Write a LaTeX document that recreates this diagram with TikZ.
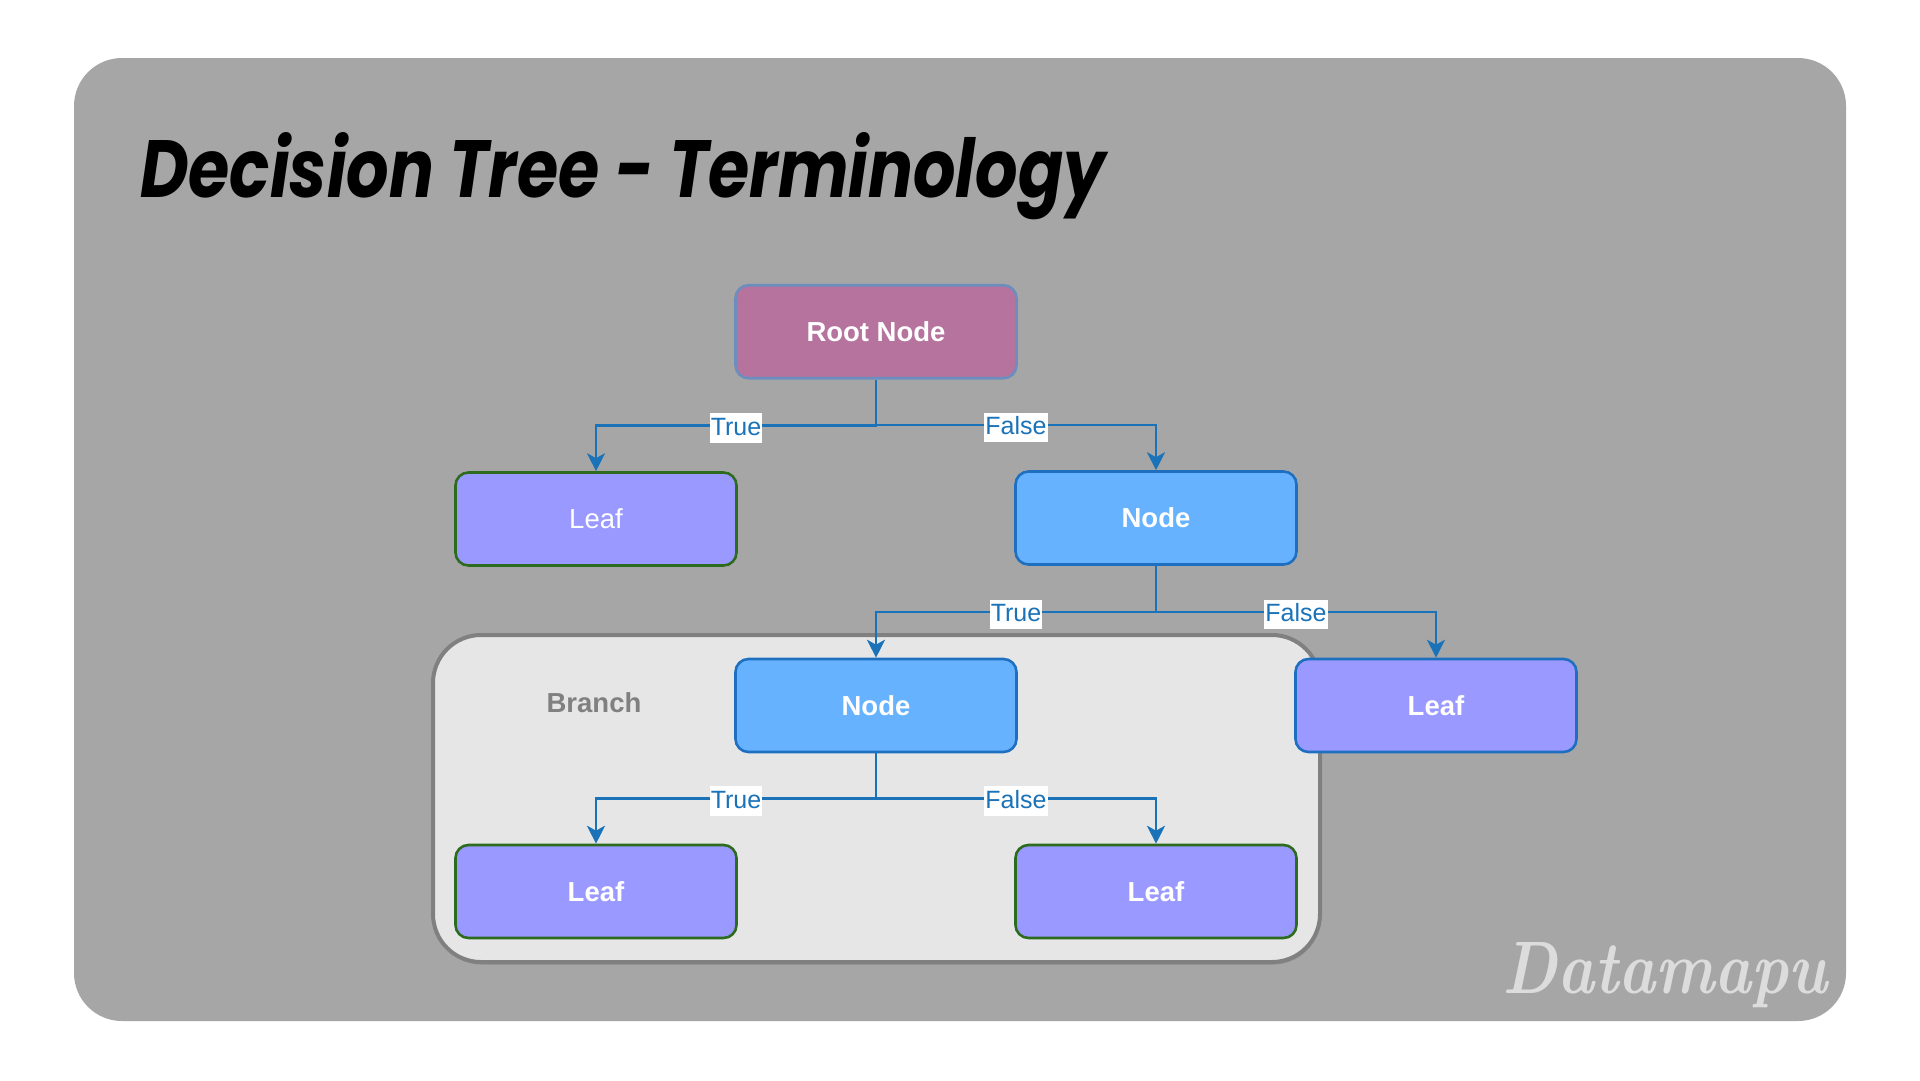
\documentclass[tikz,border=0pt]{standalone}
\usepackage{fontspec}
\setmainfont{Liberation Sans}
\newfontfamily\titlefont{Poppins}
\newfontfamily\markfont{Latin Modern Roman}
\usetikzlibrary{arrows.meta,calc,shadows}
\definecolor{bggray}{HTML}{A6A6A6}
\definecolor{rootfill}{HTML}{B5739D}
\definecolor{rootline}{HTML}{6C8EBF}
\definecolor{nodefill}{HTML}{66B2FF}
\definecolor{nodeline}{HTML}{1E6FC0}
\definecolor{leaffill}{HTML}{9999FF}
\definecolor{leafline}{HTML}{2D6B1F}
\definecolor{connc}{HTML}{1A73B8}
\definecolor{contfill}{HTML}{E6E6E6}
\definecolor{contline}{HTML}{808080}
\definecolor{markc}{HTML}{DCDCDC}
\definecolor{branchc}{HTML}{808080}
\tikzset{
  box/.style={rounded corners=13pt, line width=2.6pt, minimum width=281pt,
    minimum height=93pt, text=white, inner sep=0pt,
    font=\fontsize{27.5}{30}\selectfont\bfseries},
  rootbox/.style={box, fill=rootfill, draw=rootline},
  nodebox/.style={box, fill=nodefill, draw=nodeline},
  leafbox/.style={box, fill=leaffill, draw=leafline},
  leafblue/.style={box, fill=leaffill, draw=nodeline},
  conn/.style={draw=connc, line width=2.3pt,
    -{Stealth[length=18pt,width=18pt,inset=5pt]}},
  lbl/.style={fill=white, text=connc, font=\fontsize{25}{28}\selectfont,
    inner xsep=1.2pt, inner ysep=2pt, text height=20pt, text depth=5.5pt,
    yshift=-2.5pt},
  container/.style={draw=contline, fill=contfill, line width=4pt,
    rounded corners=48pt, minimum width=887pt, minimum height=327pt,
    inner sep=0pt, drop shadow={shadow xshift=1pt, shadow yshift=-2.5pt,
    opacity=0.35, fill=black!60}},
}
\begin{document}
\begin{tikzpicture}[x=1pt,y=-1pt]
\useasboundingbox (0,0) rectangle (1920,1080);
\fill[white] (0,0) rectangle (1920,1080);
\fill[bggray, rounded corners=48pt] (74,58) rectangle (1846,1021);

\node[anchor=base west, inner sep=0pt] (title) at (140,197)
  {\resizebox{965pt}{65pt}{\titlefont\bfseries\itshape Decision Tree - Terminology}};

\node[container] (branchbox) at (876.5,798.5) {};
\node[text=branchc, font=\fontsize{27.5}{30}\selectfont\bfseries] (branchlbl) at (594,703) {Branch};

\node[rootbox] (root) at (876,331.7) {Root Node};
\node[leafbox, font=\fontsize{27.5}{30}\selectfont] (leaf1) at (596,519) {Leaf};
\node[nodebox] (node1) at (1156,518) {Node};
\node[nodebox] (node2) at (876,705.5) {Node};
\node[leafblue] (leaf2) at (1436,705.5) {Leaf};
\node[leafbox] (leaf3) at (596,891.5) {Leaf};
\node[leafbox] (leaf4) at (1156,891.5) {Leaf};

\draw[conn] (root.south) |- ($(root.south)!.5!(leaf1.north)$) node[lbl] {True} -| (leaf1.north);
\draw[conn] (root.south) |- ($(root.south)!.5!(node1.north)$) node[lbl] {False} -| (node1.north);
\draw[conn] (node1.south) |- ($(node1.south)!.5!(node2.north)$) node[lbl] {True} -| (node2.north);
\draw[conn] (node1.south) |- ($(node1.south)!.5!(leaf2.north)$) node[lbl] {False} -| (leaf2.north);
\draw[conn] (node2.south) |- ($(node2.south)!.5!(leaf3.north)$) node[lbl] {True} -| (leaf3.north);
\draw[conn] (node2.south) |- ($(node2.south)!.5!(leaf4.north)$) node[lbl] {False} -| (leaf4.north);

\node[anchor=base west, inner sep=0pt, text=markc] (mark) at (1502,993)
  {\resizebox{325pt}{51pt}{\markfont\bfseries\itshape Datamapu}};
\end{tikzpicture}
\end{document}
